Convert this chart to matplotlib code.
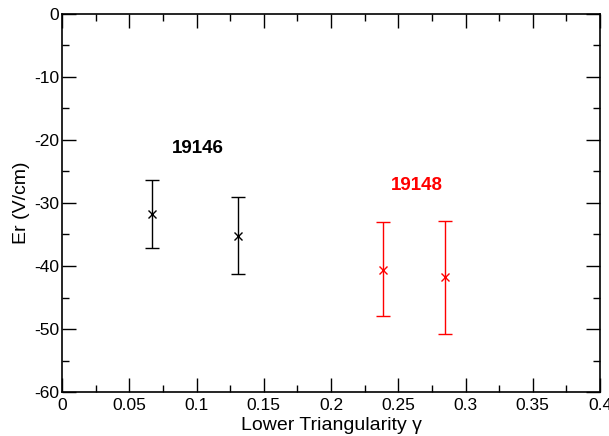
import matplotlib
matplotlib.use("Agg")
import matplotlib.pyplot as plt
from matplotlib.ticker import MultipleLocator

plt.rcParams['font.family'] = ['Liberation Sans', 'DejaVu Sans']
plt.rcParams['axes.unicode_minus'] = False

# Data
x_19146 = [0.0669, 0.1309]
y_19146 = [-31.8, -35.2]
lo_19146 = [-37.1, -41.3]
hi_19146 = [-26.4, -29.0]

x_19148 = [0.2387, 0.2848]
y_19148 = [-40.6, -41.8]
lo_19148 = [-47.9, -50.8]
hi_19148 = [-33.0, -32.8]

fig = plt.figure(figsize=(6.09, 4.36), dpi=100)
ax = fig.add_axes([62/609, 1-392/436, 538/609, 378/436])

def draw(xs, ys, lo, hi, color):
    yerr = [[y - l for y, l in zip(ys, lo)], [h - y for y, h in zip(ys, hi)]]
    ax.errorbar(xs, ys, yerr=yerr, fmt='x', color=color, ecolor=color,
                elinewidth=1.0, capsize=5, capthick=1.0, markersize=6,
                markeredgewidth=1.0)

draw(x_19146, y_19146, lo_19146, hi_19146, 'black')
draw(x_19148, y_19148, lo_19148, hi_19148, 'red')

ax.text(0.101, -21.3, '19146', color='black', fontsize=13.5, fontweight='bold',
        ha='center', va='center')
ax.text(0.264, -27.3, '19148', color='red', fontsize=13.5, fontweight='bold',
        ha='center', va='center')

ax.set_xlim(0, 0.4)
ax.set_ylim(-60, 0)
ax.xaxis.set_major_locator(MultipleLocator(0.05))
ax.xaxis.set_minor_locator(MultipleLocator(0.025))
ax.yaxis.set_major_locator(MultipleLocator(10))
ax.yaxis.set_minor_locator(MultipleLocator(5))
ax.set_xticks([0, 0.05, 0.1, 0.15, 0.2, 0.25, 0.3, 0.35, 0.4])
ax.set_xticklabels(['0', '0.05', '0.1', '0.15', '0.2', '0.25', '0.3', '0.35', '0.4'])
ax.tick_params(which='both', direction='in', top=True, right=True, labelsize=12.5, width=1)
ax.tick_params(axis='x', which='major', pad=4)
ax.tick_params(axis='y', which='major', pad=2)
ax.tick_params(which='major', length=10)
ax.tick_params(which='minor', length=5)
for s in ax.spines.values():
    s.set_linewidth(1.2)

ax.set_xlabel('Lower Triangularity γ', fontsize=14, labelpad=3.5)
ax.set_ylabel('Er (V/cm)', fontsize=14, labelpad=3)

fig.savefig('out.png', dpi=100)
